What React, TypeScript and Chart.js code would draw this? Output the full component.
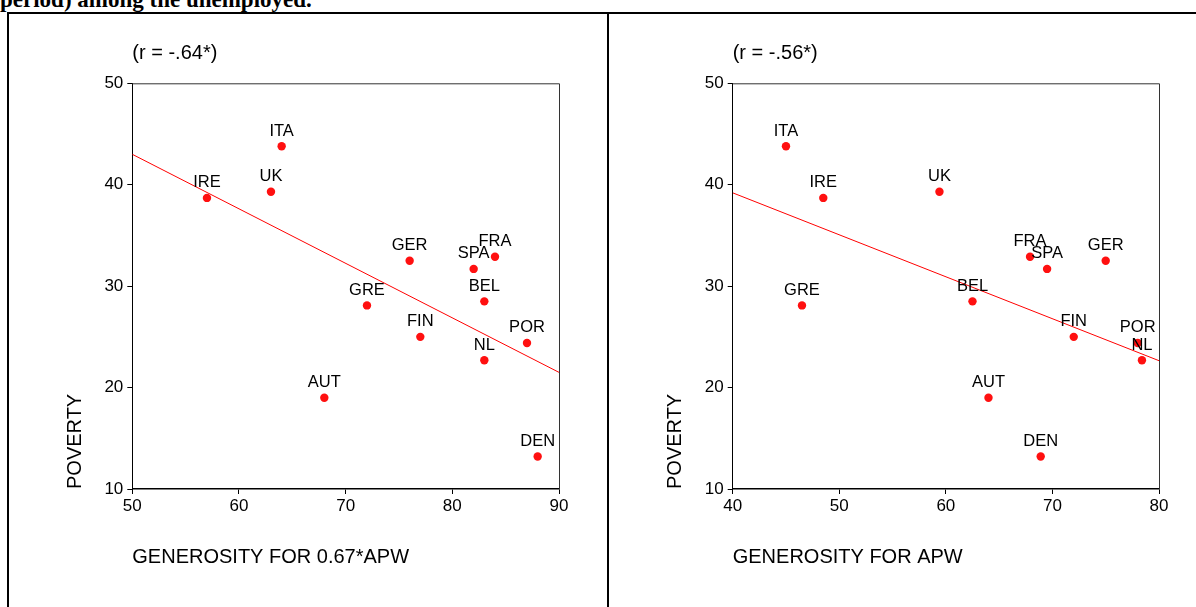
import React, { useEffect, useRef } from "react";
import { Chart, registerables } from "chart.js";

Chart.register(...registerables);

const countries = ["ITA", "IRE", "UK", "GER", "SPA", "FRA", "GRE", "BEL", "FIN", "POR", "NL", "AUT", "DEN"];
const poverty = [43.8, 38.7, 39.3, 32.5, 31.7, 32.9, 28.1, 28.5, 25.0, 24.4, 22.7, 19.0, 13.2];
const generosity067 = [64, 57, 63, 76, 82, 84, 72, 83, 77, 87, 83, 68, 88];
const generosityAPW = [45, 48.5, 59.4, 75, 69.5, 67.9, 46.5, 62.5, 72, 78, 78.4, 64, 68.9];

const fit067X = [50, 90];
const fit067Y = [43.0, 21.5];
const fitAPWX = [40, 80];
const fitAPWY = [39.2, 22.65];

const yRange = [10, 50];
const x067Range = [50, 90];
const xAPWRange = [40, 80];

const r067 = "(r = -.64*)";
const rAPW = "(r = -.56*)";
const title067 = "GENEROSITY FOR 0.67*APW";
const titleAPW = "GENEROSITY FOR APW";
const yTitle = "POVERTY";
const docText = "period) among the unemployed.";

const SANS = '"Liberation Sans", Arial, sans-serif';

type PanelProps = {
  xs: number[];
  fitX: number[];
  fitY: number[];
  xRange: number[];
  rText: string;
  xTitle: string;
  width: number;
  rightPad: number;
  yWidth: number;
};

function Panel({ xs, fitX, fitY, xRange, rText, xTitle, width, rightPad, yWidth }: PanelProps) {
  const ref = useRef<HTMLCanvasElement | null>(null);
  useEffect(() => {
    if (!ref.current) return;
    const overlay = {
      id: "overlay",
      beforeDatasetsDraw(chart: any) {
        const { ctx, chartArea } = chart;
        ctx.save();
        ctx.strokeStyle = "#333";
        ctx.lineWidth = 1;
        ctx.beginPath();
        ctx.moveTo(chartArea.left, chartArea.top + 0.5);
        ctx.lineTo(chartArea.right + 0.5, chartArea.top + 0.5);
        ctx.lineTo(chartArea.right + 0.5, chartArea.bottom);
        ctx.stroke();
        ctx.restore();
      },
      afterDatasetsDraw(chart: any) {
        const { ctx, chartArea } = chart;
        const meta = chart.getDatasetMeta(1);
        ctx.save();
        ctx.fillStyle = "#000";
        ctx.font = `16.5px ${SANS}`;
        ctx.textAlign = "center";
        ctx.textBaseline = "alphabetic";
        meta.data.forEach((el: any, i: number) => {
          ctx.fillText(countries[i], el.x, el.y - 10.5);
        });
        ctx.font = `20px ${SANS}`;
        ctx.textAlign = "left";
        ctx.fillText(rText, chartArea.left, chartArea.top - 24);
        ctx.restore();
      },
    };
    const chart = new Chart(ref.current, {
      type: "scatter",
      data: {
        datasets: [
          {
            type: "line",
            data: fitX.map((x, i) => ({ x, y: fitY[i] })),
            borderColor: "#ff0000",
            borderWidth: 1,
            pointRadius: 0,
            fill: false,
          } as any,
          {
            type: "scatter",
            data: xs.map((x, i) => ({ x, y: poverty[i] })),
            backgroundColor: "#ff1010",
            borderColor: "#ff1010",
            borderWidth: 0,
            pointRadius: 4.2,
          },
        ],
      },
      options: {
        animation: false,
        responsive: false,
        maintainAspectRatio: false,
        layout: { padding: { left: 0, right: rightPad, top: 69.3, bottom: 0 } },
        plugins: { legend: { display: false }, tooltip: { enabled: false } },
        scales: {
          x: {
            type: "linear",
            min: xRange[0],
            max: xRange[1],
            ticks: { stepSize: 10, color: "#000", font: { family: SANS, size: 17 }, padding: 2 },
            grid: { drawOnChartArea: false, drawTicks: true, tickLength: 5, color: "#000" },
            border: { display: true, color: "#000", width: 1.5 },
            title: {
              display: true,
              text: xTitle,
              align: "start",
              color: "#000",
              font: { family: SANS, size: 20 },
              padding: { top: 0, bottom: 37.8 },
            },
            afterFit: (s: any) => {
              s.height = 118;
            },
          },
          y: {
            type: "linear",
            min: yRange[0],
            max: yRange[1],
            ticks: { stepSize: 10, color: "#000", font: { family: SANS, size: 17 }, padding: 4 },
            grid: { drawOnChartArea: false, drawTicks: true, tickLength: 5, color: "#000" },
            border: { display: true, color: "#000", width: 1 },
            title: {
              display: true,
              text: yTitle,
              align: "start",
              color: "#000",
              font: { family: SANS, size: 20 },
              padding: { top: 54.3, bottom: 0 },
            },
            afterFit: (s: any) => {
              s.width = yWidth;
            },
          },
        },
      },
      plugins: [overlay],
    });
    return () => chart.destroy();
  }, []);
  return <canvas ref={ref} width={width} height={593} style={{ width, height: 593, display: "block" }} />;
}

export default function App() {
  return (
    <div style={{ position: "absolute", left: 0, top: 0, width: 1196, height: 607, overflow: "hidden", background: "#fff" }}>
      <div
        style={{
          position: "absolute",
          left: 0,
          top: -12,
          font: 'bold 23px "Liberation Serif", "Times New Roman", serif',
          lineHeight: "23px",
          whiteSpace: "nowrap",
          color: "#000",
        }}
      >
        {docText}
      </div>
      <div
        style={{
          position: "absolute",
          left: 7,
          top: 12,
          width: 1200,
          height: 600,
          borderTop: "2px solid #000",
          borderLeft: "2px solid #000",
        }}
      />
      <div style={{ position: "absolute", left: 607, top: 12, width: 2, height: 600, background: "#000" }} />
      <div style={{ position: "absolute", left: 9, top: 14 }}>
        <Panel xs={generosity067} fitX={fit067X} fitY={fit067Y} xRange={x067Range} rText={r067} xTitle={title067} width={597} rightPad={47} yWidth={123.3} />
      </div>
      <div style={{ position: "absolute", left: 609, top: 14 }}>
        <Panel xs={generosityAPW} fitX={fitAPWX} fitY={fitAPWY} xRange={xAPWRange} rText={rAPW} xTitle={titleAPW} width={587} rightPad={37} yWidth={123.7} />
      </div>
    </div>
  );
}
